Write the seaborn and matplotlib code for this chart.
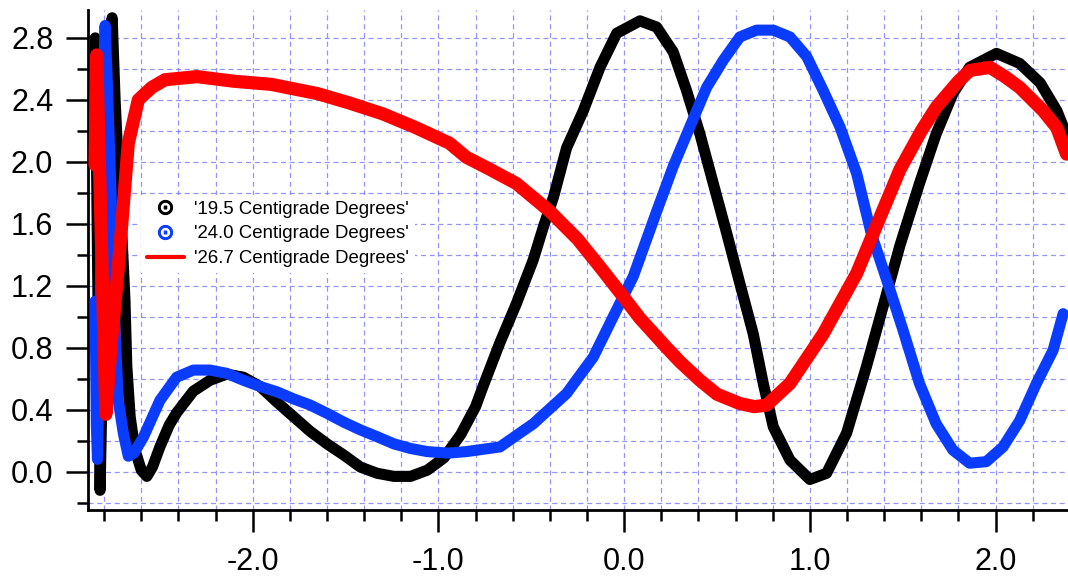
import matplotlib
matplotlib.use("Agg")
import matplotlib.pyplot as plt
from matplotlib.lines import Line2D
from matplotlib.ticker import MultipleLocator, FormatStrFormatter
import seaborn as sns
import pandas as pd

# ---------------- data ----------------
black_x = [-2.848, -2.835, -2.822, -2.80, -2.775, -2.757, -2.741, -2.724, -2.705, -2.688,
           -2.678, -2.660, -2.634, -2.60, -2.57, -2.54, -2.50, -2.45, -2.41, -2.32,
           -2.23, -2.14, -2.05, -1.96, -1.87, -1.78, -1.69, -1.60, -1.51, -1.42,
           -1.33, -1.24, -1.15, -1.06, -0.97, -0.88, -0.80, -0.76, -0.67, -0.58,
           -0.49, -0.435, -0.38, -0.31, -0.22, -0.13, -0.04, 0.085, 0.175, 0.264,
           0.336, 0.408, 0.48, 0.552, 0.623, 0.695, 0.749, 0.803, 0.893, 1.0,
           1.09, 1.198, 1.305, 1.395, 1.485, 1.59, 1.68, 1.77, 1.86, 2.005,
           2.13, 2.24, 2.33, 2.38]
black_y = [2.80, 1.30, -0.12, 1.20, 2.50, 2.93, 2.40, 1.97, 1.54, 1.11,
           0.68, 0.355, 0.14, 0.01, -0.03, 0.03, 0.16, 0.30, 0.38, 0.52,
           0.59, 0.63, 0.61, 0.55, 0.45, 0.355, 0.26, 0.18, 0.108, 0.03,
           -0.01, -0.03, -0.03, 0.01, 0.09, 0.24, 0.42, 0.55, 0.83, 1.086,
           1.366, 1.58, 1.774, 2.09, 2.33, 2.61, 2.83, 2.91, 2.87, 2.71,
           2.46, 2.18, 1.86, 1.54, 1.215, 0.89, 0.57, 0.29, 0.075, -0.05,
           -0.01, 0.25, 0.68, 1.07, 1.46, 1.86, 2.18, 2.44, 2.61, 2.70,
           2.635, 2.51, 2.33, 2.18]

blue_x = [-2.849, -2.842, -2.836, -2.82, -2.805, -2.795, -2.786, -2.768, -2.75, -2.741,
          -2.724, -2.697, -2.67, -2.64, -2.59, -2.50, -2.41, -2.32, -2.23, -2.14,
          -2.05, -1.96, -1.87, -1.78, -1.69, -1.60, -1.51, -1.42, -1.33, -1.24,
          -1.15, -1.06, -0.95, -0.848, -0.669, -0.489, -0.31, -0.166, -0.059, 0.049,
          0.139, 0.175, 0.264, 0.354, 0.444, 0.534, 0.623, 0.713, 0.803, 0.893,
          0.983, 1.072, 1.162, 1.252, 1.33, 1.42, 1.50, 1.59, 1.68, 1.77,
          1.86, 1.95, 2.04, 2.13, 2.22, 2.31, 2.364]
blue_y = [1.10, 0.30, 0.08, 1.20, 2.40, 2.88, 2.61, 1.97, 1.32, 0.89,
          0.46, 0.25, 0.10, 0.12, 0.22, 0.46, 0.61, 0.656, 0.656, 0.635,
          0.59, 0.55, 0.516, 0.47, 0.43, 0.377, 0.32, 0.27, 0.226, 0.18,
          0.15, 0.13, 0.12, 0.13, 0.16, 0.31, 0.505, 0.74, 1.0, 1.26,
          1.56, 1.68, 1.97, 2.226, 2.48, 2.656, 2.806, 2.85, 2.85, 2.806,
          2.68, 2.46, 2.226, 1.925, 1.54, 1.215, 0.92, 0.57, 0.31, 0.14,
          0.055, 0.065, 0.16, 0.33, 0.57, 0.785, 1.02]

red_x = [-2.849, -2.840, -2.815, -2.791, -2.76, -2.724, -2.670, -2.616, -2.544, -2.472,
         -2.30, -2.10, -1.90, -1.65, -1.48, -1.30, -1.12, -0.94, -0.85, -0.72,
         -0.58, -0.40, -0.25, -0.129, -0.005, 0.085, 0.229, 0.30, 0.408, 0.50,
         0.623, 0.70, 0.767, 0.893, 1.072, 1.252, 1.377, 1.485, 1.60, 1.682,
         1.80, 1.862, 1.97, 2.05, 2.13, 2.256, 2.33, 2.382]
red_y = [1.98, 2.69, 1.50, 0.37, 0.85, 1.32, 2.12, 2.40, 2.48, 2.53,
         2.55, 2.52, 2.50, 2.44, 2.38, 2.31, 2.22, 2.12, 2.03, 1.95,
         1.86, 1.68, 1.50, 1.32, 1.13, 0.99, 0.80, 0.71, 0.59, 0.50,
         0.44, 0.42, 0.43, 0.57, 0.89, 1.28, 1.64, 1.95, 2.20, 2.355,
         2.52, 2.59, 2.61, 2.55, 2.48, 2.33, 2.22, 2.05]

labels = ["'19.5 Centigrade Degrees'", "'24.0 Centigrade Degrees'", "'26.7 Centigrade Degrees'"]
x_ticks = [-2.0, -1.0, 0.0, 1.0, 2.0]
y_ticks = [0.0, 0.4, 0.8, 1.2, 1.6, 2.0, 2.4, 2.8]

BLACK, BLUE, RED = "#000000", "#0a3cff", "#ff0000"

# ---------------- figure ----------------
sns.set_theme(style="white")
plt.rcParams["font.family"] = ["Liberation Sans", "DejaVu Sans"]

fig = plt.figure(figsize=(10.68, 5.81), dpi=100)
ax = fig.add_axes([88 / 1068, 71 / 581, (1068 - 88) / 1068, 500 / 581])

df_b = pd.DataFrame({"x": black_x, "y": black_y})
df_u = pd.DataFrame({"x": blue_x, "y": blue_y})
df_r = pd.DataFrame({"x": red_x, "y": red_y})

sns.lineplot(data=df_b, x="x", y="y", ax=ax, sort=False, estimator=None, color=BLACK,
             linewidth=8, marker="o", markersize=3.5, markeredgewidth=0, zorder=3)
sns.lineplot(data=df_u, x="x", y="y", ax=ax, sort=False, estimator=None, color=BLUE,
             linewidth=8, marker="o", markersize=3.5, markeredgewidth=0, zorder=4)
sns.lineplot(data=df_r, x="x", y="y", ax=ax, sort=False, estimator=None, color=RED,
             linewidth=9.5, zorder=5)

ax.set_xlim(-2.887, 2.39)
ax.set_ylim(-0.247, 2.98)
ax.set_xlabel("")
ax.set_ylabel("")

ax.set_xticks(x_ticks)
ax.set_yticks(y_ticks)
ax.xaxis.set_minor_locator(MultipleLocator(0.2))
ax.yaxis.set_minor_locator(MultipleLocator(0.2))
ax.xaxis.set_major_formatter(FormatStrFormatter("%.1f"))
ax.yaxis.set_major_formatter(FormatStrFormatter("%.1f"))

ax.grid(True, which="both", color="#7a7aff", linestyle=(0, (4, 3)), linewidth=0.9, alpha=0.8)
ax.set_axisbelow(True)

for s in ["top", "right"]:
    ax.spines[s].set_visible(False)
for s in ["left", "bottom"]:
    ax.spines[s].set_color("black")
    ax.spines[s].set_linewidth(2.0)

ax.tick_params(which="major", direction="out", length=16, width=1.8, color="black",
               labelsize=22, labelcolor="black")
ax.tick_params(which="minor", direction="out", length=8, width=1.8, color="black")
ax.tick_params(axis="x", which="major", pad=11)
ax.tick_params(axis="y", which="major", pad=9)
ax.tick_params(left=True, bottom=True, which="both")

handles = [
    Line2D([], [], linestyle="none", marker=r"$\odot$", markersize=10, color=BLACK),
    Line2D([], [], linestyle="none", marker=r"$\odot$", markersize=10, color=BLUE),
    Line2D([], [], color=RED, linewidth=3),
]
leg = fig.legend(handles, labels, loc="upper left", bbox_to_anchor=(141 / 1068, 1 - 195 / 581),
                 bbox_transform=fig.transFigure, frameon=True, fancybox=False, framealpha=1,
                 facecolor="white", edgecolor="none", fontsize=13.4, handlelength=2.0,
                 handletextpad=0.55, labelspacing=0.42, borderpad=0.3, borderaxespad=0)
for t in leg.get_texts():
    t.set_color("black")

fig.savefig("out.png", dpi=100)
